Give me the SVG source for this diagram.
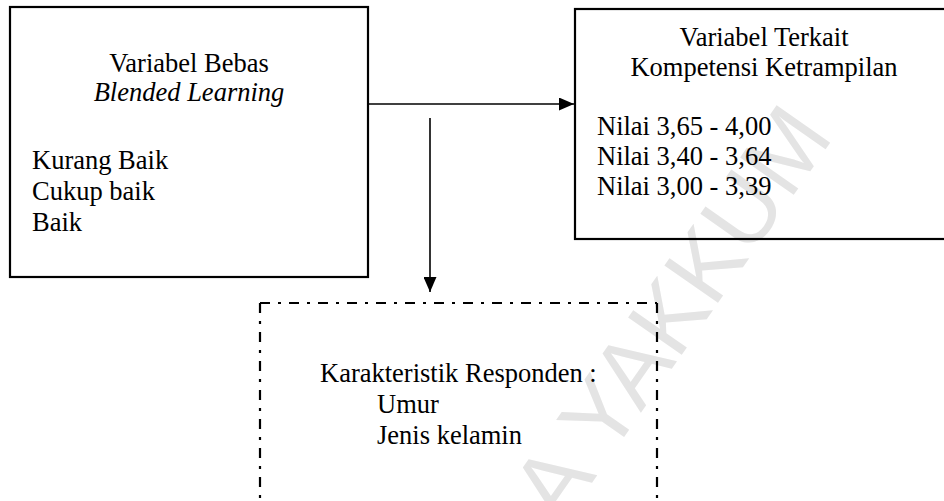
<svg xmlns="http://www.w3.org/2000/svg" width="944" height="501" viewBox="0 0 944 501">
<defs>
<style>
.t{font-family:"Liberation Serif","Times New Roman",serif;font-size:26.5px;fill:#000}
.c{text-anchor:middle}
.box{fill:none;stroke:#000;stroke-width:2.2}
.dash{fill:none;stroke:#000;stroke-width:2.2;stroke-dasharray:10 8 3 8}
.conn{stroke:#000;stroke-width:1.6;fill:none}
.wm{font-family:"Liberation Sans",Arial,sans-serif;font-size:95px;fill:#e4e4e4}
</style>
<marker id="ah" viewBox="0 0 15 13" refX="15" refY="6.5" markerWidth="15" markerHeight="13" markerUnits="userSpaceOnUse" orient="auto">
<path d="M0,0 L15,6.5 L0,13 z" fill="#000"/>
</marker>
</defs>
<rect width="944" height="501" fill="#fff"/>
<text class="wm" transform="translate(561,527) rotate(-55)">A YAKKUM</text>
<g id="node-bebas">
<rect class="box" x="10" y="7" width="358" height="270"/>
<text class="t c" x="189" y="72">Variabel Bebas</text>
<text class="t c" x="189" y="101" font-style="italic">Blended Learning</text>
<text class="t" x="32" y="169">Kurang Baik</text>
<text class="t" x="32" y="200">Cukup baik</text>
<text class="t" x="32" y="231">Baik</text>
</g>
<g id="node-terkait">
<rect class="box" x="575" y="9" width="390" height="230"/>
<text class="t c" x="764" y="46">Variabel Terkait</text>
<text class="t c" x="764" y="76">Kompetensi Ketrampilan</text>
<text class="t" x="597" y="135">Nilai 3,65 - 4,00</text>
<text class="t" x="597" y="165">Nilai 3,40 - 3,64</text>
<text class="t" x="597" y="195">Nilai 3,00 - 3,39</text>
</g>
<g id="node-karakteristik">
<path class="dash" d="M260,303 H657"/>
<path class="dash" d="M260,303 V520"/>
<path class="dash" d="M657,303 V520"/>
<text class="t" x="320" y="382">Karakteristik Responden :</text>
<text class="t" x="377" y="413">Umur</text>
<text class="t" x="377" y="444">Jenis kelamin</text>
</g>
<g id="connectors">
<line class="conn" x1="369" y1="104" x2="574" y2="104" marker-end="url(#ah)"/>
<line class="conn" x1="430" y1="118" x2="430" y2="292" marker-end="url(#ah)"/>
</g>
</svg>
